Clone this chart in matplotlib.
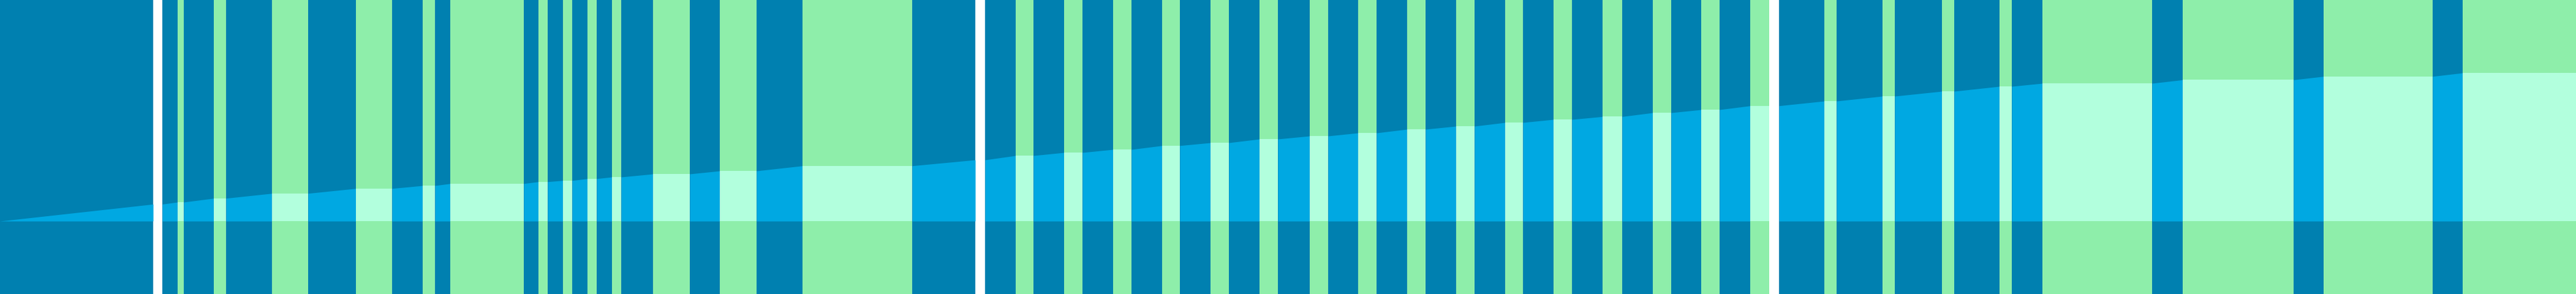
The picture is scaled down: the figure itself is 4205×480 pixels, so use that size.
import matplotlib
matplotlib.use("Agg")
import matplotlib.pyplot as plt

# segments along the timeline (start, end) and their state
seg_start = [0, 265, 290, 300, 349, 369, 444, 503, 581, 640, 690, 710, 735, 855, 879, 894,
             919, 934, 959, 974, 999, 1014, 1066, 1126, 1175, 1235, 1310, 1489,
             1608, 1658, 1687, 1737, 1767, 1817, 1847, 1897, 1926, 1976, 2006, 2056, 2086,
             2138, 2168, 2217, 2247, 2297, 2327, 2377, 2407, 2457, 2486, 2536, 2566, 2616,
             2648, 2698, 2728, 2777, 2807, 2857,
             2904, 2978, 2998, 3073, 3093, 3170, 3190, 3264, 3284, 3334, 3513, 3563, 3744,
             3793, 3971, 4020]
seg_end = [250, 290, 300, 349, 369, 444, 503, 581, 640, 690, 710, 735, 855, 879, 894, 919,
           934, 959, 974, 999, 1014, 1066, 1126, 1175, 1235, 1310, 1489, 1592,
           1658, 1687, 1737, 1767, 1817, 1847, 1897, 1926, 1976, 2006, 2056, 2086, 2138,
           2168, 2217, 2247, 2297, 2327, 2377, 2407, 2457, 2486, 2536, 2566, 2616, 2648,
           2698, 2728, 2777, 2807, 2857, 2888,
           2978, 2998, 3073, 3093, 3170, 3190, 3264, 3284, 3334, 3513, 3563, 3744, 3793,
           3971, 4020, 4205]
seg_state = ["on", "on", "off", "on", "off", "on", "off", "on", "off", "on", "off", "on", "off",
             "on", "off", "on", "off", "on", "off", "on", "off", "on", "off", "on", "off", "on",
             "off", "on",
             "on", "off", "on", "off", "on", "off", "on", "off", "on", "off", "on", "off", "on",
             "off", "on", "off", "on", "off", "on", "off", "on", "off", "on", "off", "on", "off",
             "on", "off", "on", "off", "on", "off",
             "on", "off", "on", "off", "on", "off", "on", "off", "on", "off", "on", "off", "on",
             "off", "on", "off"]
# running total at the end of each segment (flat while "off")
seg_total = [27.7, 31, 31, 37.3, 37.3, 45.3, 45.3, 53.3, 53.3, 58, 58, 61.3, 61.3, 64.3, 64.3,
             66.3, 66.3, 69.3, 69.3, 72, 72, 77, 77, 82, 82, 90.3, 90.3, 100,
             107, 107, 112, 112, 117, 117, 123.3, 123.3, 128, 128, 134, 134, 139,
             139, 144, 144, 150, 150, 155, 155, 161, 161, 166, 166, 170.7, 170.7,
             177, 177, 182, 182, 188.3, 188.3,
             196, 196, 204, 204, 212, 212, 220, 220, 225, 225, 230.7, 230.7, 236.3,
             236.3, 242, 242]

base_color = {"on": "#0080b0", "off": "#8eeeaa"}
lit_color = {"on": "#00a8e2", "off": "#b2ffdd"}
BASELINE = 119

fig = plt.figure(figsize=(42.05, 4.8), dpi=100)
ax = fig.add_axes([0, 0, 1, 1])

prev = 0
for s, e, st, tot in zip(seg_start, seg_end, seg_state, seg_total):
    ax.bar(s, 480, width=e - s, bottom=0, align="edge", color=base_color[st], linewidth=0)
    ax.fill_between([s, e], BASELINE, [BASELINE + prev, BASELINE + tot],
                    color=lit_color[st], linewidth=0)
    prev = tot

ax.set_xlim(0, 4205)
ax.set_ylim(0, 480)
ax.axis("off")
fig.savefig("out.png", dpi=100, facecolor="white")
